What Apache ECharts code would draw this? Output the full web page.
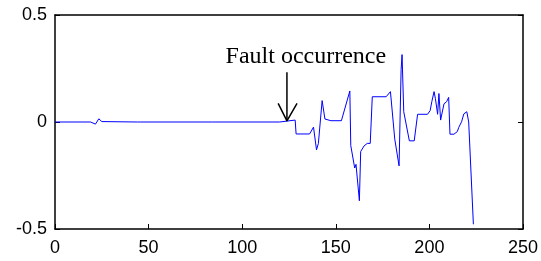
<!DOCTYPE html>
<html>
<head>
<meta charset="utf-8">
<script src="https://cdn.jsdelivr.net/npm/echarts@6/dist/echarts.min.js"></script>
<style>
  html, body { margin: 0; padding: 0; background: #fff; }
  #chart { width: 541px; height: 261px; }
</style>
</head>
<body>
<div id="chart"></div>
<script>
(function() {
  'use strict';

  // --- Data ---
  var sampleX = [
    0, 19, 20, 21.6, 23.4, 25, 26, 44, 44.7, 45.5, 84, 84.8, 85.5,
    120, 121, 128.3, 128.8, 136, 138.1, 139.7, 140.7, 142.7, 144.2, 147.4,
    153, 154, 157.5, 158, 160.1, 160.8, 162.6, 163.3, 165.1, 166.8, 168.4,
    169.5, 176.9, 179.2, 181.5, 183.8, 184.9, 185.4, 186.3, 189.3, 191.9,
    193.7, 199, 200.4, 201.3, 202.5, 203.2, 204.4, 205.1, 206, 207.8, 209.2,
    210.3, 211, 213.1, 214.9, 215.7, 217.2, 218.4, 220, 221, 221.8, 223.5
  ];
  var sampleY = [
    0, 0, 0.005, -0.01, 0.015, 0.002, 0, 0, -0.008, 0, 0, 0.005, 0,
    0, 0.009, 0.009, -0.056, -0.056, -0.024, -0.13, -0.1, 0.1, 0.014, 0.006,
    0.006, 0.013, 0.145, -0.11, -0.215, -0.198, -0.368, -0.138, -0.112, -0.1, -0.1,
    0.118, 0.118, 0.142, -0.08, -0.205, 0.245, 0.315, 0.048, -0.088, -0.088,
    0.036, 0.036, 0.053, 0.095, 0.142, 0.11, 0.036, 0.133, 0.009, 0.085, 0.095,
    0.115, -0.057, -0.057, -0.045, -0.025, 0.001, 0.038, 0.048, 0, -0.005, -0.478
  ];

  var xTicks = [0, 50, 100, 150, 200, 250];
  var yTicks = [-0.5, 0, 0.5];

  // annotation: arrow pointing at the fault instant
  var faultLabel = 'Fault occurrence';
  var faultX = 123.9;
  var arrowTopY = 0.232;
  var arrowTipY = 0.005;
  var arrowHeadX = [119.2, 123.9, 129.3];
  var arrowHeadY = [0.087, 0.005, 0.087];
  var labelAt = [134, 0.304];

  function zip(xs, ys) {
    return xs.map(function(x, i) { return [x, ys[i]]; });
  }

  var tickFont = {
    fontSize: 18,
    color: '#000',
    fontFamily: '"Liberation Sans", Arial, sans-serif'
  };
  var axisLine = { show: true, onZero: false, lineStyle: { color: '#000', width: 1.5 } };
  var innerTick = { show: true, inside: true, length: 5, lineStyle: { color: '#000', width: 1 } };

  var chart = echarts.init(document.getElementById('chart'), null, { renderer: 'canvas' });

  chart.setOption({
    animation: false,
    backgroundColor: '#fff',
    grid: { left: 55, right: 14, top: 15, bottom: 32 },
    xAxis: [{
      type: 'value',
      min: xTicks[0],
      max: xTicks[xTicks.length - 1],
      interval: 50,
      axisLine: axisLine,
      axisTick: innerTick,
      splitLine: { show: false },
      axisLabel: Object.assign({ margin: 10 }, tickFont)
    }, {
      type: 'value',
      position: 'top',
      min: xTicks[0],
      max: xTicks[xTicks.length - 1],
      interval: 50,
      axisLine: axisLine,
      axisTick: { show: false },
      axisLabel: { show: false },
      splitLine: { show: false }
    }],
    yAxis: [{
      type: 'value',
      min: yTicks[0],
      max: yTicks[yTicks.length - 1],
      interval: 0.5,
      axisLine: axisLine,
      axisTick: innerTick,
      splitLine: { show: false },
      axisLabel: Object.assign({ margin: 8, formatter: function(v) { return String(v); } }, tickFont)
    }, {
      type: 'value',
      position: 'right',
      min: yTicks[0],
      max: yTicks[yTicks.length - 1],
      interval: 0.5,
      axisLine: axisLine,
      axisTick: innerTick,
      axisLabel: { show: false },
      splitLine: { show: false }
    }],
    series: [{
      type: 'line',
      data: zip(sampleX, sampleY),
      symbol: 'none',
      lineStyle: { color: '#0000ff', width: 1 },
      silent: true
    }, {
      // arrow shaft + label
      type: 'line',
      data: [[faultX, arrowTopY], [faultX, arrowTipY]],
      symbol: 'none',
      lineStyle: { color: '#000', width: 1.5 },
      silent: true,
      markPoint: {
        symbol: 'circle',
        symbolSize: 0,
        label: {
          show: true,
          position: 'inside',
          formatter: faultLabel,
          color: '#000',
          fontSize: 24,
          fontFamily: '"Liberation Serif", "Times New Roman", serif'
        },
        data: [{ coord: labelAt }]
      }
    }, {
      // arrow head
      type: 'line',
      data: zip(arrowHeadX, arrowHeadY),
      symbol: 'none',
      lineStyle: { color: '#000', width: 1.5 },
      silent: true
    }]
  });
})();
</script>
</body>
</html>
